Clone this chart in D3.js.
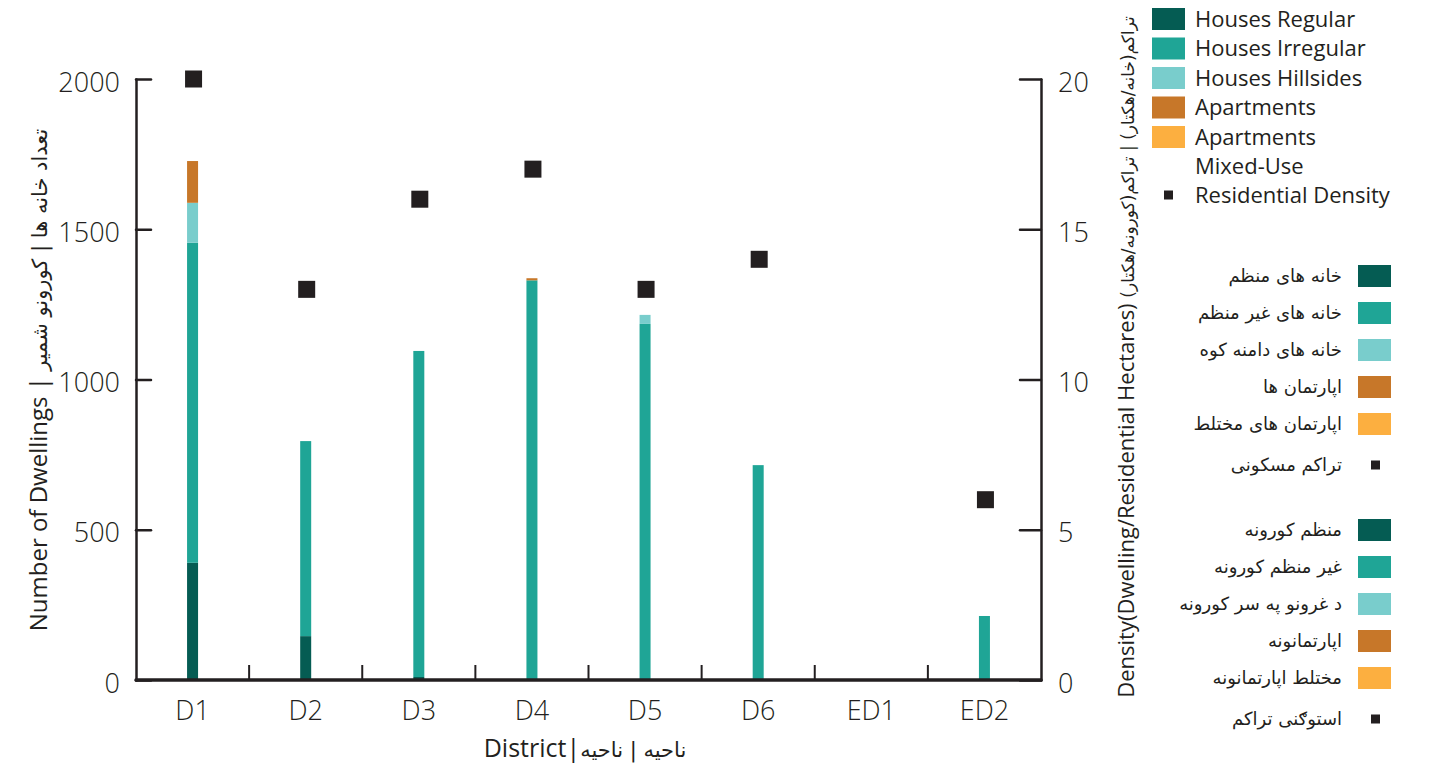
<!DOCTYPE html>
<html>
<head>
<meta charset="utf-8">
<script src="https://cdn.jsdelivr.net/npm/d3@7"></script>
<style>
  body { margin: 0; background: #fff; }
  text { fill: #231f20; }
</style>
</head>
<body>
<div id="chart"></div>
<script>
// data
var districts = ["D1", "D2", "D3", "D4", "D5", "D6", "ED1", "ED2"];
var housesRegular   = [390, 146, 10, 0, 0, 0, 0, 0];
var housesIrregular = [1065, 649, 1085, 1330, 1185, 715, 0, 213];
var housesHillsides = [133, 0, 0, 0, 30, 0, 0, 0];
var apartments      = [139, 0, 0, 7, 0, 0, 0, 0];
var apartmentsMixed = [0, 0, 0, 0, 0, 0, 0, 0];
var density         = [20, 13, 16, 17, 13, 14, null, 6];

var dwellingTicks = [0, 500, 1000, 1500, 2000];
var densityTicks = [0, 5, 10, 15, 20];

var seriesKeys = ["regular", "irregular", "hillsides", "apartments", "mixed"];
var colors = ["#055c53", "#1fa596", "#79cdcc", "#c77729", "#fcaf40"];
var labelsEn = ["Houses Regular", "Houses Irregular", "Houses Hillsides", "Apartments", "Apartments|Mixed-Use", "Residential Density"];
var labelsDari = ["خانه های منظم", "خانه های غیر منظم", "خانه های دامنه کوه", "اپارتمان ها", "اپارتمان های مختلط", "تراکم مسکونی"];
var labelsPashto = ["منظم کورونه", "غیر منظم کورونه", "د غرونو په سر کورونه", "اپارتمانونه", "مختلط اپارتمانونه", "استوګنی تراکم"];

var LRM = "\u200E";
var latin = "'Open Sans', 'DejaVu Sans', sans-serif";
var arabic = "'DejaVu Sans', sans-serif";

var rows = districts.map(function (d, i) {
  return {
    district: d,
    regular: housesRegular[i],
    irregular: housesIrregular[i],
    hillsides: housesHillsides[i],
    apartments: apartments[i],
    mixed: apartmentsMixed[i],
    density: density[i]
  };
});

var svg = d3.select("#chart").append("svg")
  .attr("width", 1430)
  .attr("height", 775);

var x = d3.scaleBand().domain(districts).range([136, 1041]).padding(0);
var y = d3.scaleLinear().domain([0, 2000]).range([680, 79]);
var yR = d3.scaleLinear().domain([0, 20]).range([680, 79]);

// stacked bars
var stacked = d3.stack().keys(seriesKeys)(rows);
var barW = 11;
svg.append("g").selectAll("g")
  .data(stacked)
  .enter().append("g")
    .attr("fill", function (d, i) { return colors[i]; })
  .selectAll("rect")
  .data(function (d) { return d; })
  .enter().append("rect")
    .attr("x", function (d) { return x(d.data.district) + x.bandwidth() / 2 - barW / 2; })
    .attr("y", function (d) { return y(d[1]); })
    .attr("width", barW)
    .attr("height", function (d) { return Math.max(0, y(d[0]) - y(d[1])); });

// left axis
var leftAxis = svg.append("g")
  .attr("transform", "translate(136,0)")
  .call(d3.axisLeft(y).tickValues(dwellingTicks).tickFormat(d3.format("d"))
    .tickSizeInner(-15).tickSizeOuter(0).tickPadding(16));
leftAxis.selectAll("text")
  .attr("dy", "0.45em")
  .style("font-family", latin).style("font-weight", 300).style("font-size", "27px");

// right axis
var rightAxis = svg.append("g")
  .attr("transform", "translate(1041,0)")
  .call(d3.axisRight(yR).tickValues(densityTicks).tickFormat(d3.format("d"))
    .tickSizeInner(-21).tickSizeOuter(0).tickPadding(17));
rightAxis.selectAll("text")
  .attr("dy", "0.45em")
  .style("font-family", latin).style("font-weight", 300).style("font-size", "27px");

svg.selectAll(".domain, .tick line")
  .attr("stroke", "#231f20")
  .attr("stroke-width", 2.5)
  .attr("stroke-linecap", "round");

// x axis: labels, boundary ticks and the base line
var bottomAxis = svg.append("g")
  .attr("transform", "translate(0,680)")
  .call(d3.axisBottom(x).tickSize(0).tickPadding(21));
bottomAxis.select(".domain").remove();
bottomAxis.selectAll("text")
  .style("font-family", latin).style("font-weight", 300).style("font-size", "27px");

svg.append("g").selectAll("line")
  .data(districts.slice(0, -1))
  .enter().append("line")
    .attr("x1", function (d) { return x(d) + x.bandwidth(); })
    .attr("x2", function (d) { return x(d) + x.bandwidth(); })
    .attr("y1", 680)
    .attr("y2", 665)
    .attr("stroke", "#231f20")
    .attr("stroke-width", 2);

svg.append("line")
  .attr("x1", x.range()[0]).attr("x2", x.range()[1])
  .attr("y1", 680).attr("y2", 680)
  .attr("stroke", "#231f20")
  .attr("stroke-width", 3.5)
  .attr("stroke-linecap", "round");

// density squares
var sq = 17;
svg.append("g").selectAll("rect")
  .data(rows.filter(function (d) { return d.density != null; }))
  .enter().append("rect")
    .attr("x", function (d) { return x(d.district) + x.bandwidth() / 2 - sq / 2 + 1; })
    .attr("y", function (d) { return yR(d.density) - sq / 2; })
    .attr("width", sq)
    .attr("height", sq)
    .attr("fill", "#231f20");

// axis titles
var leftTitle = svg.append("text")
  .attr("transform", "translate(47,380) rotate(-90)")
  .attr("text-anchor", "middle")
  .style("font-family", latin).style("font-size", "24px");
leftTitle.append("tspan").text("Number of Dwellings " + LRM + "|" + LRM + " ");
leftTitle.append("tspan").style("font-family", arabic).style("font-size", "21px")
  .text("کورونو شمیر" + LRM + " | " + LRM + "تعداد خانه ها");

var rightTitle = svg.append("text")
  .attr("transform", "translate(1134,357) rotate(-90)")
  .attr("text-anchor", "middle")
  .style("font-family", latin).style("font-size", "22px");
rightTitle.append("tspan").text("Density(Dwelling/Residential Hectares)" + LRM + " ");
rightTitle.append("tspan").style("font-family", arabic).style("font-size", "17px")
  .text(LRM + "(تراکم(کورونه/هکتار" + LRM + "   |   " + LRM + "(تراکم(خانه/هکتار" + LRM);

var bottomTitle = svg.append("text")
  .attr("x", 585).attr("y", 757)
  .attr("text-anchor", "middle")
  .style("font-family", latin).style("font-size", "25px");
bottomTitle.append("tspan").text("District" + LRM + "|");
bottomTitle.append("tspan").style("font-family", arabic).style("font-size", "21px")
  .text("ناحیه" + LRM + " | " + LRM + "ناحیه");

// english legend
var legEn = svg.append("g");
var enRowY = function (i) { return i < 5 ? 19 + i * 29.5 : 195; };
legEn.selectAll("rect.sw")
  .data(seriesKeys)
  .enter().append("rect")
    .attr("class", "sw")
    .attr("x", 1152).attr("y", function (d, i) { return enRowY(i) - 11; })
    .attr("width", 33).attr("height", 22)
    .attr("fill", function (d, i) { return colors[i]; });
legEn.append("rect")
  .attr("x", 1164).attr("y", enRowY(5) - 4.5).attr("width", 9).attr("height", 9)
  .attr("fill", "#231f20");
legEn.selectAll("text")
  .data(labelsEn)
  .enter().append("text")
    .attr("x", 1195).attr("y", function (d, i) { return enRowY(i); })
    .style("font-family", latin).style("font-size", "22px")
    .each(function (d) {
      var parts = d.split("|");
      var t = d3.select(this);
      parts.forEach(function (p, k) {
        t.append("tspan").attr("x", 1195).attr("dy", k === 0 ? "0.36em" : 29.5).text(p);
      });
    });

// dari and pashto legends
function rtlLegend(labels, top) {
  var g = svg.append("g");
  var rowY = function (i) { return top + i * 37 + (i === 5 ? 4 : 0); };
  g.selectAll("rect.sw")
    .data(seriesKeys)
    .enter().append("rect")
      .attr("class", "sw")
      .attr("x", 1358).attr("y", function (d, i) { return rowY(i) - 11; })
      .attr("width", 33).attr("height", 22)
      .attr("fill", function (d, i) { return colors[i]; });
  g.append("rect")
    .attr("x", 1371).attr("y", rowY(5) - 4.5).attr("width", 9).attr("height", 9)
    .attr("fill", "#231f20");
  g.selectAll("text")
    .data(labels)
    .enter().append("text")
      .attr("x", 1342).attr("y", function (d, i) { return rowY(i); })
      .attr("dy", "0.35em")
      .attr("text-anchor", "end")
      .style("font-family", arabic).style("font-size", "18px")
      .text(function (d) { return d; });
}
rtlLegend(labelsDari, 276);
rtlLegend(labelsPashto, 530);
</script>
</body>
</html>
